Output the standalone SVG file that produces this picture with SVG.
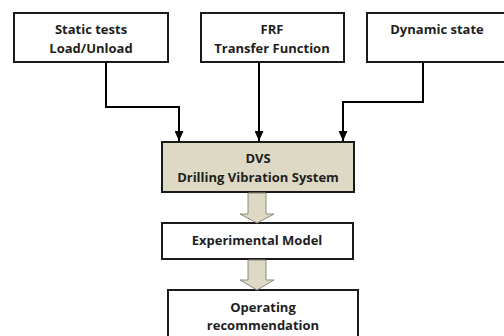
<svg xmlns="http://www.w3.org/2000/svg" width="504" height="336" viewBox="0 0 504 336">
<defs>
<marker id="ah" markerWidth="10" markerHeight="9" refX="10" refY="4.5" orient="auto" markerUnits="userSpaceOnUse">
<path d="M0,0 L10,4.5 L0,9 Z" fill="#000"/>
</marker>
<style>
.box{fill:#fff;stroke:#1a1a1a;stroke-width:2}
.dvs{fill:#ddd9c4;stroke:#1a1a1a;stroke-width:2}
.t{font-family:"Open Sans","Liberation Sans",sans-serif;font-weight:700;font-size:13px;fill:#1e1e1e;text-anchor:middle}
.c{fill:none;stroke:#000;stroke-width:2}
.ba{fill:#ddd9c4;stroke:#8c8a7c;stroke-width:1}
</style>
</defs>
<rect width="504" height="336" fill="#fff"/>
<g id="static">
<rect class="box" x="14" y="13" width="154" height="49"/>
<text class="t" x="91" y="34">Static tests</text>
<text class="t" x="91" y="53">Load/Unload</text>
</g>
<g id="frf">
<rect class="box" x="201" y="13" width="143" height="49"/>
<text class="t" x="272" y="34">FRF</text>
<text class="t" x="272" y="53">Transfer Function</text>
</g>
<g id="dynamic">
<rect class="box" x="367" y="13" width="145" height="49"/>
<text class="t" x="437" y="34">Dynamic state</text>
</g>
<g id="dvs">
<rect class="dvs" x="162" y="142" width="192" height="50"/>
<text class="t" x="258" y="163">DVS</text>
<text class="t" x="258" y="182">Drilling Vibration System</text>
</g>
<g id="experimental">
<rect class="box" x="162" y="223" width="191" height="36"/>
<text class="t" x="257" y="245">Experimental Model</text>
</g>
<g id="operating">
<rect class="box" x="168" y="290" width="190" height="52"/>
<text class="t" x="263" y="312">Operating</text>
<text class="t" x="263" y="330">recommendation</text>
</g>
<g id="connectors">
<path class="c" d="M106,62 V107 H179 V141" marker-end="url(#ah)"/>
<path class="c" d="M259,62 V141" marker-end="url(#ah)"/>
<path class="c" d="M423,62 V102 H343 V141" marker-end="url(#ah)"/>
<path class="ba" d="M248,193 H266 V214 H274 L257,223 L240,214 H248 Z"/>
<path class="ba" d="M248,260 H266 V280 H274 L257,290 L240,280 H248 Z"/>
</g>
</svg>
